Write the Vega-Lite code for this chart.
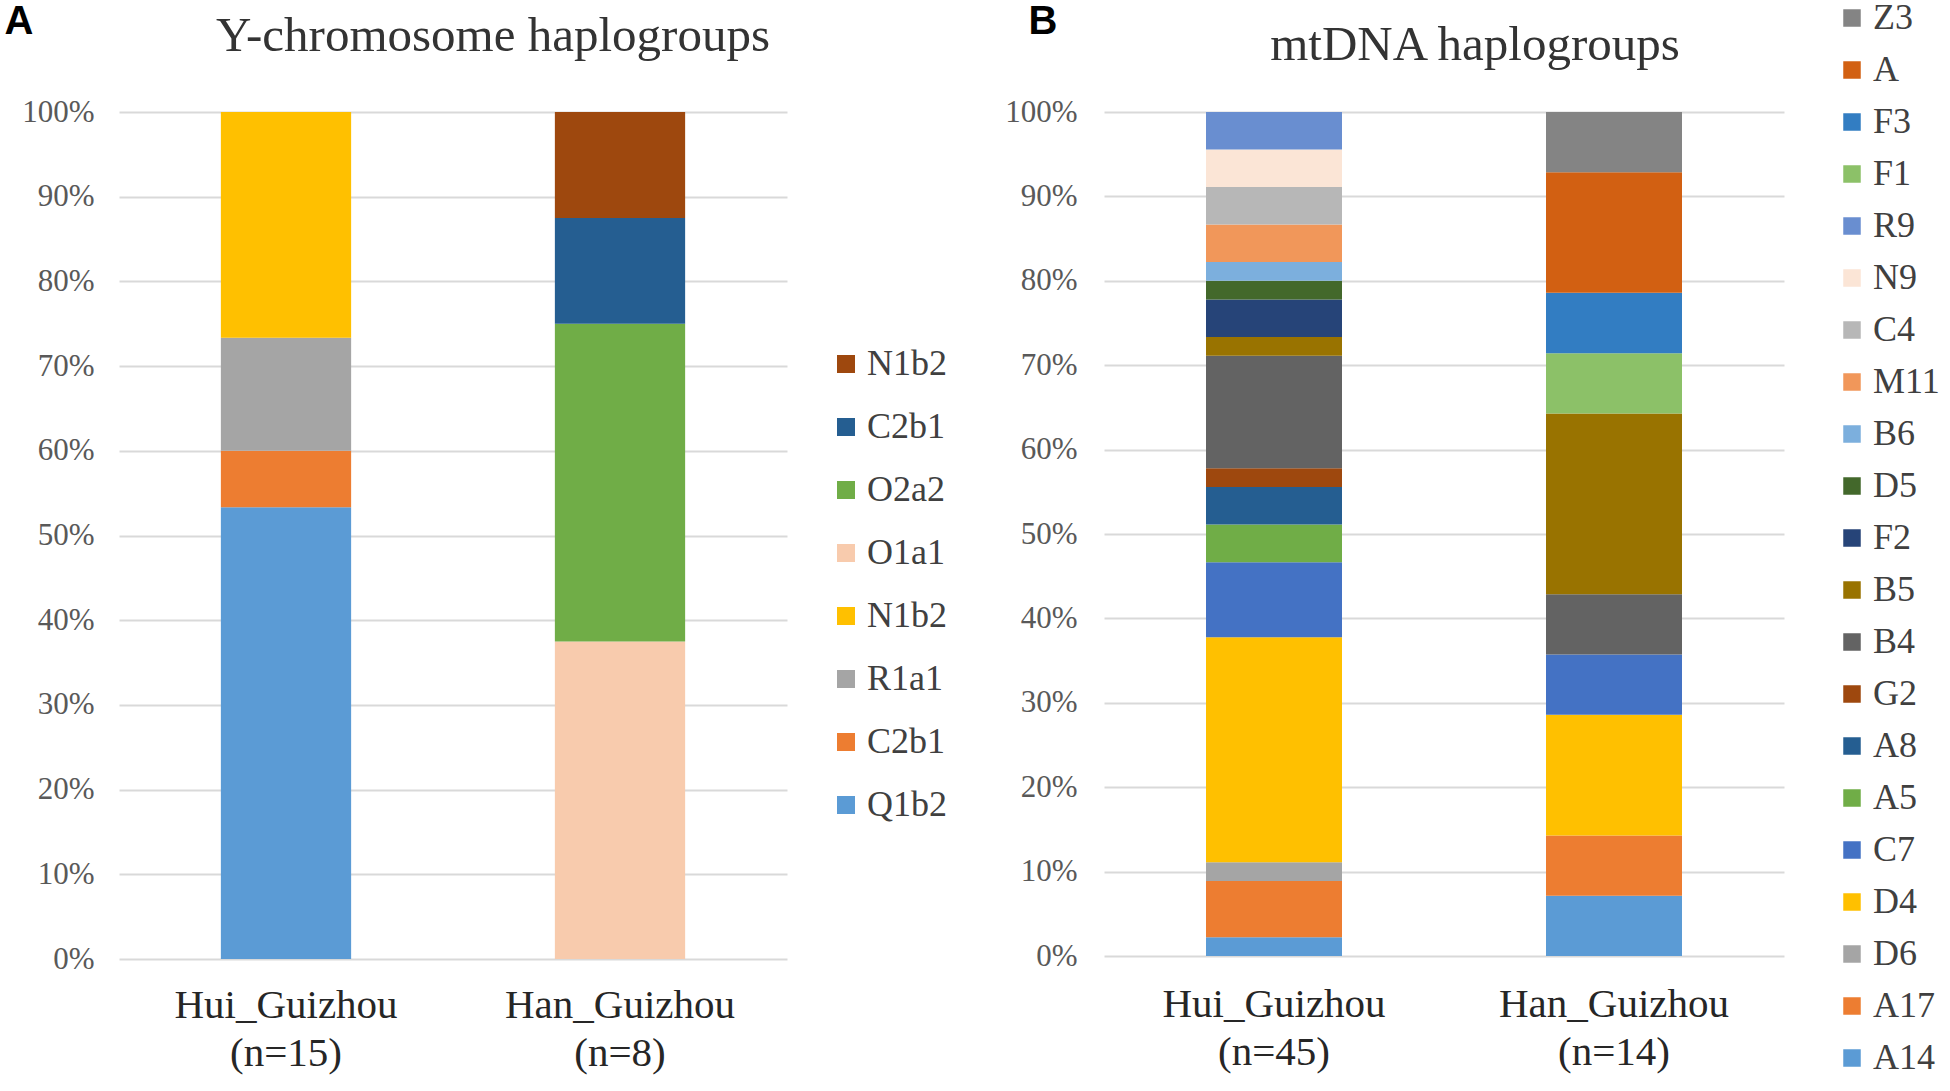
{
  "$schema": "https://vega.github.io/schema/vega-lite/v6.json",
  "background": "white",
  "padding": {"left": 4, "top": 0, "right": 0, "bottom": 0},
  "bounds": "flush",
  "spacing": 317,
  "resolve": {"scale": {"color": "independent", "y": "independent", "x": "independent"}, "legend": {"color": "independent"}},
  "config": {"view": {"stroke": null}},
  "hconcat": [
    {
      "width": 668,
      "height": 847,
      "title": {"text": "Y-chromosome haplogroups", "anchor": "middle", "dx": 40, "offset": -99, "baseline": "alphabetic", "font": "Liberation Serif", "fontSize": 49, "fontWeight": "normal", "color": "#333333"},
      "data": {"values": [
        {"group": "Hui_Guizhou", "hap": "Q1b2", "s": 1, "n": 8},
        {"group": "Hui_Guizhou", "hap": "C2b1", "s": 2, "n": 1},
        {"group": "Hui_Guizhou", "hap": "R1a1", "s": 3, "n": 2},
        {"group": "Hui_Guizhou", "hap": "N1b2", "s": 4, "n": 4},
        {"group": "Han_Guizhou", "hap": "O1a1", "s": 5, "n": 3},
        {"group": "Han_Guizhou", "hap": "O2a2", "s": 6, "n": 3},
        {"group": "Han_Guizhou", "hap": "C2b1 (Han)", "s": 7, "n": 1},
        {"group": "Han_Guizhou", "hap": "N1b2 (Han)", "s": 8, "n": 1}
      ]},
      "mark": {"type": "bar"},
      "encoding": {
        "x": {"field": "group", "type": "nominal", "sort": ["Hui_Guizhou", "Han_Guizhou"],
          "scale": {"paddingInner": 0.61, "paddingOuter": 0.305},
          "axis": {"title": null, "labelAngle": 0, "domain": false, "ticks": false, "labelLimit": 500,
            "labelExpr": "datum.value == 'Hui_Guizhou' ? ['Hui_Guizhou', '(n=15)'] : ['Han_Guizhou', '(n=8)']",
            "labelFont": "Liberation Serif", "labelFontSize": 41, "labelColor": "#262626", "labelLineHeight": 48, "labelPadding": 26, "labelBaseline": "top"}},
        "y": {"field": "n", "type": "quantitative", "stack": "normalize", "scale": {"domain": [0, 1]},
          "axis": {"title": "A", "titleAngle": 0, "titleX": -115, "titleY": -111, "titleAlign": "left", "titleBaseline": "top",
            "titleFont": "Liberation Sans", "titleFontSize": 40, "titleFontWeight": "bold", "titleColor": "#000000",
            "format": ".0%", "values": [0, 0.1, 0.2, 0.3, 0.4, 0.5, 0.6, 0.7, 0.8, 0.9, 1],
            "domain": false, "ticks": false, "grid": true, "gridColor": "#D9D9D9", "gridWidth": 2,
            "labelFont": "Liberation Serif", "labelFontSize": 31, "labelColor": "#595959", "labelPadding": 25}},
        "color": {"field": "hap", "type": "nominal",
          "scale": {"domain": ["N1b2 (Han)", "C2b1 (Han)", "O2a2", "O1a1", "N1b2", "R1a1", "C2b1", "Q1b2"],
            "range": ["#9E480E", "#255E91", "#70AD47", "#F8CBAD", "#FFC000", "#A5A5A5", "#ED7D31", "#5B9BD5"]},
          "legend": {"title": null, "orient": "none", "legendX": 709, "legendY": 234, "direction": "vertical", "padding": 0,
            "symbolType": "square", "symbolSize": 324, "symbolStrokeWidth": 0, "labelOffset": 3, "rowPadding": 27,
            "labelFont": "Liberation Serif", "labelFontSize": 36, "labelColor": "#404040",
            "labelExpr": "split(datum.label, ' ')[0]"}},
        "order": {"field": "s", "type": "quantitative"}
      }
    },
    {
      "width": 680,
      "height": 844,
      "title": {"text": "mtDNA  haplogroups", "anchor": "middle", "dx": 31, "offset": -109, "baseline": "alphabetic", "font": "Liberation Serif", "fontSize": 49, "fontWeight": "normal", "color": "#333333"},
      "data": {"values": [
        {"group": "Hui_Guizhou", "hap": "A14", "s": 1, "n": 1},
        {"group": "Hui_Guizhou", "hap": "A17", "s": 2, "n": 3},
        {"group": "Hui_Guizhou", "hap": "D6", "s": 3, "n": 1},
        {"group": "Hui_Guizhou", "hap": "D4", "s": 4, "n": 12},
        {"group": "Hui_Guizhou", "hap": "C7", "s": 5, "n": 4},
        {"group": "Hui_Guizhou", "hap": "A5", "s": 6, "n": 2},
        {"group": "Hui_Guizhou", "hap": "A8", "s": 7, "n": 2},
        {"group": "Hui_Guizhou", "hap": "G2", "s": 8, "n": 1},
        {"group": "Hui_Guizhou", "hap": "B4", "s": 9, "n": 6},
        {"group": "Hui_Guizhou", "hap": "B5", "s": 10, "n": 1},
        {"group": "Hui_Guizhou", "hap": "F2", "s": 11, "n": 2},
        {"group": "Hui_Guizhou", "hap": "D5", "s": 12, "n": 1},
        {"group": "Hui_Guizhou", "hap": "B6", "s": 13, "n": 1},
        {"group": "Hui_Guizhou", "hap": "M11", "s": 14, "n": 2},
        {"group": "Hui_Guizhou", "hap": "C4", "s": 15, "n": 2},
        {"group": "Hui_Guizhou", "hap": "N9", "s": 16, "n": 2},
        {"group": "Hui_Guizhou", "hap": "R9", "s": 17, "n": 2},
        {"group": "Han_Guizhou", "hap": "A14", "s": 1, "n": 1},
        {"group": "Han_Guizhou", "hap": "A17", "s": 2, "n": 1},
        {"group": "Han_Guizhou", "hap": "D4", "s": 4, "n": 2},
        {"group": "Han_Guizhou", "hap": "C7", "s": 5, "n": 1},
        {"group": "Han_Guizhou", "hap": "B4", "s": 9, "n": 1},
        {"group": "Han_Guizhou", "hap": "B5", "s": 10, "n": 3},
        {"group": "Han_Guizhou", "hap": "F1", "s": 18, "n": 1},
        {"group": "Han_Guizhou", "hap": "F3", "s": 19, "n": 1},
        {"group": "Han_Guizhou", "hap": "A", "s": 20, "n": 2},
        {"group": "Han_Guizhou", "hap": "Z3", "s": 21, "n": 1}
      ]},
      "mark": {"type": "bar"},
      "encoding": {
        "x": {"field": "group", "type": "nominal", "sort": ["Hui_Guizhou", "Han_Guizhou"],
          "scale": {"paddingInner": 0.6, "paddingOuter": 0.3},
          "axis": {"title": null, "labelAngle": 0, "domain": false, "ticks": false, "labelLimit": 500,
            "labelExpr": "datum.value == 'Hui_Guizhou' ? ['Hui_Guizhou', '(n=45)'] : ['Han_Guizhou', '(n=14)']",
            "labelFont": "Liberation Serif", "labelFontSize": 41, "labelColor": "#262626", "labelLineHeight": 48, "labelPadding": 28, "labelBaseline": "top"}},
        "y": {"field": "n", "type": "quantitative", "stack": "normalize", "scale": {"domain": [0, 1]},
          "axis": {"title": "B", "titleAngle": 0, "titleX": -76, "titleY": -111, "titleAlign": "left", "titleBaseline": "top",
            "titleFont": "Liberation Sans", "titleFontSize": 40, "titleFontWeight": "bold", "titleColor": "#000000",
            "format": ".0%", "values": [0, 0.1, 0.2, 0.3, 0.4, 0.5, 0.6, 0.7, 0.8, 0.9, 1],
            "domain": false, "ticks": false, "grid": true, "gridColor": "#D9D9D9", "gridWidth": 2,
            "labelFont": "Liberation Serif", "labelFontSize": 31, "labelColor": "#595959", "labelPadding": 27}},
        "color": {"field": "hap", "type": "nominal",
          "scale": {"domain": ["Z3", "A", "F3", "F1", "R9", "N9", "C4", "M11", "B6", "D5", "F2", "B5", "B4", "G2", "A8", "A5", "C7", "D4", "D6", "A17", "A14"],
            "range": ["#848484", "#D26012", "#327DC2", "#8CC168", "#698ED0", "#FBE5D6", "#B7B7B7", "#F1975A", "#7CAFDD", "#43682B", "#264478", "#997300", "#636363", "#9E480E", "#255E91", "#70AD47", "#4472C4", "#FFC000", "#A5A5A5", "#ED7D31", "#5B9BD5"]},
          "legend": {"title": null, "orient": "none", "legendX": 730, "legendY": -112, "direction": "vertical", "padding": 0,
            "symbolType": "square", "symbolSize": 306, "symbolStrokeWidth": 0, "labelOffset": 3, "rowPadding": 16,
            "labelFont": "Liberation Serif", "labelFontSize": 36, "labelColor": "#404040"}},
        "order": {"field": "s", "type": "quantitative"}
      }
    }
  ]
}
